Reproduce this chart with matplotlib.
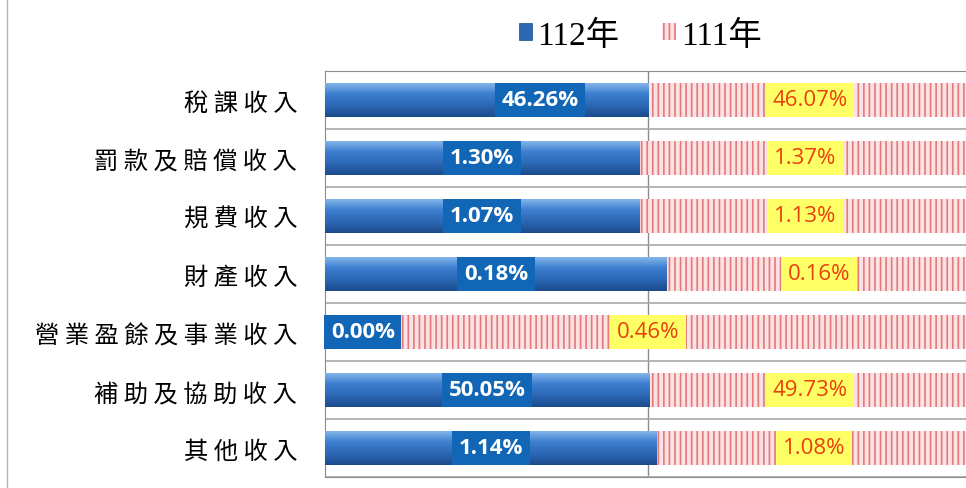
import matplotlib
matplotlib.use("Agg")
import matplotlib.pyplot as plt
import numpy as np
from matplotlib.colors import LinearSegmentedColormap
from matplotlib.patches import Patch
from matplotlib.lines import Line2D

# revenue categories, top to bottom
categories = ["稅課收入", "罰款及賠償收入", "規費收入", "財產收入",
              "營業盈餘及事業收入", "補助及協助收入", "其他收入"]
v112 = [46.26, 1.30, 1.07, 0.18, 0.00, 50.05, 1.14]
v111 = [46.07, 1.37, 1.13, 0.16, 0.46, 49.73, 1.08]
series_names = ["112年", "111年"]

plt.rcParams['font.family'] = ['Noto Sans CJK TC', 'DejaVu Sans']
plt.rcParams['hatch.linewidth'] = 1.2

a = np.array(v112)
b = np.array(v111)
share112 = a / (a + b)
share111 = 1 - share112
y = np.arange(len(categories))
h = 0.6

fig = plt.figure(figsize=(9.66, 4.89), dpi=100)
ax = fig.add_axes([325 / 966, 1 - 478 / 489, 641 / 966, 406 / 489])

blue_cmap = LinearSegmentedColormap.from_list(
    "bluebar", ["#8ab8ec", "#3d7fcf", "#2c68b6", "#1c4b8c"])
grad = np.linspace(0, 1, 64).reshape(-1, 1)

bars112 = ax.barh(y, share112, height=h, color="#2c68b6", lw=0, zorder=2)
for p in bars112:
    x0, yc, w = p.get_x(), p.get_y() + h / 2, p.get_width()
    if w <= 0:
        continue
    im = ax.imshow(grad, extent=(x0, x0 + w, yc + h / 2, yc - h / 2),
                   origin='upper', aspect='auto', cmap=blue_cmap, zorder=3)
    im.set_clip_path(p)

red_fc = "#fbe2e3"
red_ec = "#e5787c"
ax.barh(y, share111, left=share112, height=h, facecolor=red_fc,
        edgecolor=red_ec, hatch="|||", lw=0, zorder=2)

# labels: 112 on blue box, 111 on yellow box
shift112 = [0.082, 0, 0, 0, 0, 0, 0]
lab_font = dict(fontsize=16, family='Open Sans', zorder=5, va='center')
for i in range(len(categories)):
    if share112[i] > 0.05:
        xpos, ha = share112[i] / 2 + shift112[i], 'center'
    else:
        xpos, ha = 0.009, 'left'
    ax.text(xpos, y[i], f"{v112[i]:.2f}%", ha=ha, color='white',
            fontweight='bold',
            bbox=dict(boxstyle='square,pad=0.3', fc='#1166b5', ec='none'),
            **lab_font)
    ax.text(share112[i] + share111[i] / 2, y[i], f"{v111[i]:.2f}%",
            ha='center', color='#e8400f',
            bbox=dict(boxstyle='square,pad=0.3', fc='#ffff66', ec='none'),
            **lab_font)

ax.set_xlim(0, 0.5 * 641 / 323)
ax.set_ylim(len(categories) - 0.5, -0.5)
ax.set_xticks([0.5])
ax.set_xticklabels([])
ax.set_yticks(y)
ax.set_yticklabels([" ".join(c) for c in categories], fontsize=17.5)
ax.set_yticks(np.arange(len(categories) + 1) - 0.5, minor=True)
ax.tick_params(axis='both', which='both', length=0)
ax.tick_params(axis='y', pad=20)
ax.grid(True, axis='x', which='major', color='#8c8c8c', lw=1, zorder=0)
ax.grid(True, axis='y', which='minor', color='#a8a8a8', lw=1.2, zorder=0)
ax.set_axisbelow(True)
for s in ['left', 'top', 'bottom']:
    ax.spines[s].set_color('#8c8c8c')
ax.spines['right'].set_visible(False)

handles = [Patch(facecolor="#2c68b6", edgecolor="#1c4b8c", lw=0.5),
           Patch(facecolor=red_fc, edgecolor=red_ec, hatch="|||", lw=0)]
fig.legend(handles, series_names, loc='center', ncol=2, frameon=False,
           bbox_to_anchor=(640 / 966, 1 - 36 / 489),
           prop={'family': ['Liberation Serif', 'Noto Sans CJK TC'], 'size': 24},
           handlelength=0.4, handleheight=0.4, handletextpad=0.15,
           columnspacing=1.3)

fig.add_artist(Line2D([7 / 966, 7 / 966], [0, 1], color='#b5b5b5', lw=1))

fig.savefig("out.png", dpi=100)
